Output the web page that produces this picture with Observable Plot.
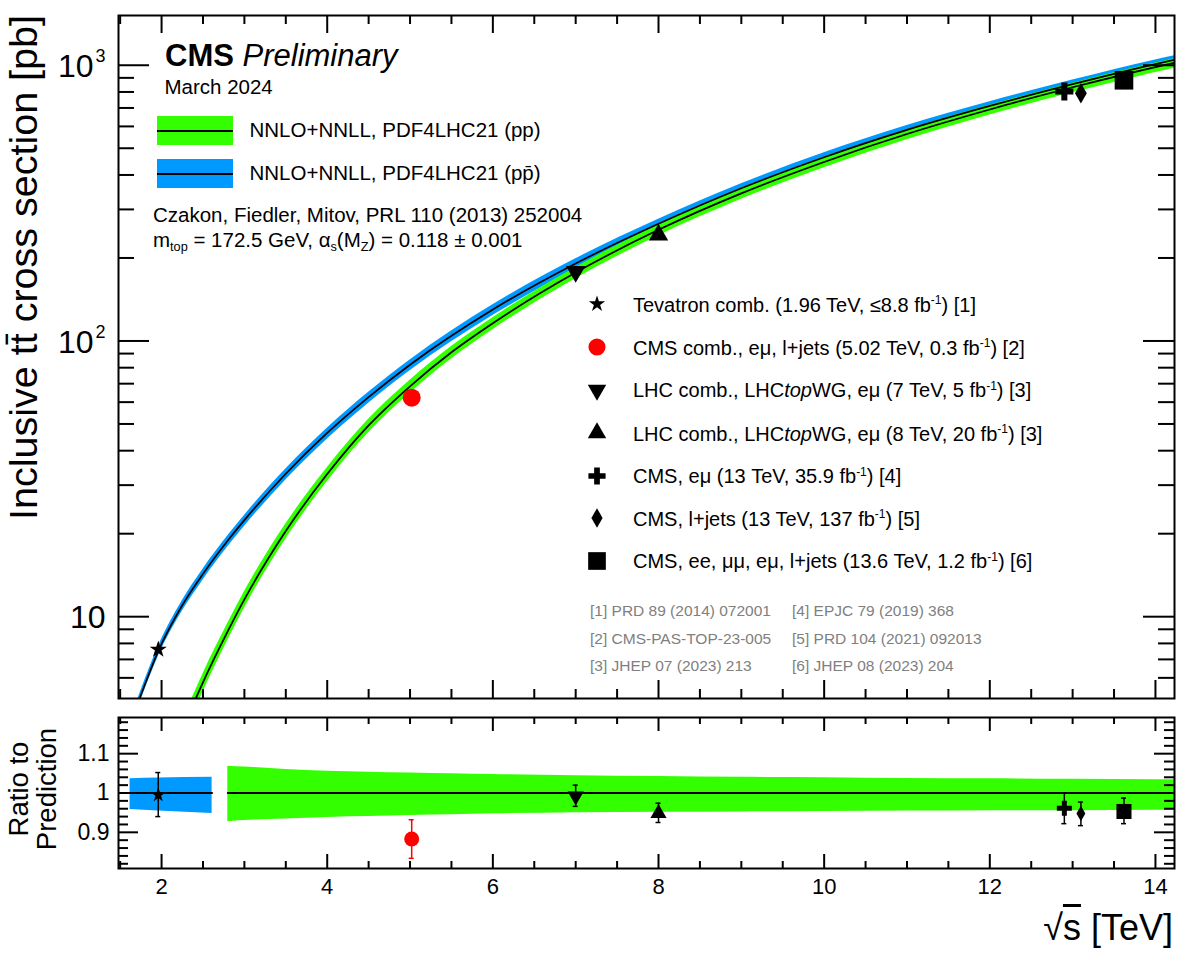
<!DOCTYPE html>
<html><head><meta charset="utf-8">
<script src="https://cdn.jsdelivr.net/npm/d3@7"></script>
<script src="https://cdn.jsdelivr.net/npm/@observablehq/plot@0.6"></script>
<style>
body{margin:0;background:#fff;}
#wrap{position:relative;width:1184px;height:957px;overflow:hidden;font-family:"Liberation Sans",Arial,Helvetica,sans-serif;color:#000;}
#top,#bot{position:absolute;left:0;}
#top{top:0}
#bot{top:705px}
.lbl{position:absolute;white-space:nowrap;line-height:1;}
.sup{position:relative;top:-0.62em;font-size:0.6em;}
.sub{position:relative;top:0.32em;font-size:0.62em;}
.ov{text-decoration:overline;}
.sw{position:absolute;}
</style></head><body><div id="wrap"><div id="top"></div><div id="bot"></div></div>
<script>
// ---------- theory: NNLO+NNLL, PDF4LHC21 (pp) ----------
const ppSqrtS = [2.35, 2.5, 2.8, 3, 3.5, 4, 4.5, 5, 5.5, 6, 7, 8, 9, 10, 11, 12, 13, 14, 14.3];
const ppXsec  = [4.57, 5.78, 8.86, 11.55, 20.45, 32.9, 49.4, 68.5, 91, 116, 177, 253, 343, 446, 563, 691, 832, 985, 1032];
const ppRelUp = [0.075, 0.073, 0.068, 0.066, 0.060, 0.055, 0.053, 0.051, 0.049, 0.047, 0.044, 0.042, 0.040, 0.039, 0.037, 0.036, 0.035, 0.034, 0.034];
const ppRelDn = [0.080, 0.078, 0.073, 0.070, 0.066, 0.062, 0.060, 0.057, 0.055, 0.053, 0.050, 0.049, 0.048, 0.047, 0.046, 0.045, 0.045, 0.044, 0.044];
const ppRatioStart = 2.8;

// ---------- theory: NNLO+NNLL, PDF4LHC21 (ppbar) ----------
const ppbarSqrtS = [1.7, 1.8, 1.96, 2.25, 2.5, 2.8, 3, 3.5, 4, 4.5, 5, 6, 7, 8, 9, 10, 11, 12, 13, 14, 14.3];
const ppbarXsec  = [4.73, 5.69, 7.5, 11.0, 14.3, 18.9, 22.4, 33.0, 46.4, 62.6, 82, 130, 191, 266, 358, 464, 583, 712, 854, 1010, 1057];
const ppbarRelUp = [0.036, 0.037, 0.038, 0.039, 0.040, 0.040, 0.040, 0.040, 0.040, 0.040, 0.040, 0.040, 0.040, 0.039, 0.038, 0.038, 0.037, 0.036, 0.035, 0.035, 0.035];
const ppbarRelDn = [0.042, 0.044, 0.046, 0.049, 0.051, 0.052, 0.052, 0.052, 0.052, 0.051, 0.050, 0.049, 0.048, 0.047, 0.046, 0.046, 0.045, 0.045, 0.045, 0.044, 0.044];
const ppbarRatioSqrtS = [1.62, 1.96, 2.61];
const ppbarRatioUp = [0.036, 0.038, 0.040];
const ppbarRatioDn = [0.042, 0.046, 0.052];

// ---------- measurements ----------
const measLabel = [
  'Tevatron comb. (1.96 TeV, ≤8.8 fb<span class="sup">-1</span>) [1]',
  'CMS comb., eμ, l+jets (5.02 TeV, 0.3 fb<span class="sup">-1</span>) [2]',
  'LHC comb., LHC<i>top</i>WG, eμ (7 TeV, 5 fb<span class="sup">-1</span>) [3]',
  'LHC comb., LHC<i>top</i>WG, eμ (8 TeV, 20 fb<span class="sup">-1</span>) [3]',
  'CMS, eμ (13 TeV, 35.9 fb<span class="sup">-1</span>) [4]',
  'CMS, l+jets (13 TeV, 137 fb<span class="sup">-1</span>) [5]',
  'CMS, ee, μμ, eμ, l+jets (13.6 TeV, 1.2 fb<span class="sup">-1</span>) [6]'
];
const measSqrtS   = [1.96, 5.02, 7, 8, 12.9, 13.1, 13.62];
const measXsec    = [7.60, 62.3, 178.5, 242.3, 803, 791, 882];
const measRatio   = [0.995, 0.883, 0.992, 0.948, 0.961, 0.948, 0.953];
const measRatioLo = [0.940, 0.834, 0.966, 0.925, 0.922, 0.917, 0.922];
const measRatioHi = [1.052, 0.932, 1.020, 0.974, 1.000, 0.977, 0.987];
const measSymbol  = ["star", "circle", "triangle", "triangle", "cross", "diamond", "square"];
const measRotate  = [0, 0, 180, 0, 0, 0, 0];
const measColor   = ["black", "#ff0000", "black", "black", "black", "black", "black"];
const measSizeTop = [5.4, 9, 7.2, 7.2, 7.6, 6.2, 10.5];
const measSizeRat = [4.6, 7.5, 6, 6, 6.3, 4.7, 8.5];

const refsLeft  = ["[1] PRD 89 (2014) 072001", "[2] CMS-PAS-TOP-23-005", "[3] JHEP 07 (2023) 213"];
const refsRight = ["[4] EPJC 79 (2019) 368", "[5] PRD 104 (2021) 092013", "[6] JHEP 08 (2023) 204"];

// ---------- axes ----------
const xDom = [1.48, 14.23];
const yDom = [5.05, 1515];
const rDom = [0.808, 1.192];
const xMajorTicks = [2, 4, 6, 8, 10, 12, 14];
const xMinorTicks = [1.5, 2.5, 3, 3.5, 4.5, 5, 5.5, 6.5, 7, 7.5, 8.5, 9, 9.5, 10.5, 11, 11.5, 12.5, 13, 13.5];
const yMajorTicks = [10, 100, 1000];
const yTickBase = ["10", "10", "10"];
const yTickSup = ["", "2", "3"];
const yMinorTicks = [6, 7, 8, 9, 20, 30, 40, 50, 60, 70, 80, 90, 200, 300, 400, 500, 600, 700, 800, 900];
const rMajorTicks = [0.9, 1, 1.1];
const rTickLabels = ["0.9", "1", "1.1"];
const rMinorTicks = [0.82, 0.84, 0.86, 0.88, 0.92, 0.94, 0.96, 0.98, 1.02, 1.04, 1.06, 1.08, 1.12, 1.14, 1.16, 1.18];

const GREEN = "#33ff00", BLUE = "#0099ff";
const FONT = '"Liberation Sans", Arial, Helvetica, sans-serif';

const ppRows = ppSqrtS.map((x, i) => ({x, v: ppXsec[i], lo: ppXsec[i] * (1 - ppRelDn[i]), hi: ppXsec[i] * (1 + ppRelUp[i]), rlo: 1 - ppRelDn[i], rhi: 1 + ppRelUp[i]}));
const ppbarRows = ppbarSqrtS.map((x, i) => ({x, v: ppbarXsec[i], lo: ppbarXsec[i] * (1 - ppbarRelDn[i]), hi: ppbarXsec[i] * (1 + ppbarRelUp[i])}));
const ppbarRatioRows = ppbarRatioSqrtS.map((x, i) => ({x, rlo: 1 - ppbarRatioDn[i], rhi: 1 + ppbarRatioUp[i]}));
const ppRatioRows = ppRows.filter(d => d.x >= ppRatioStart);
const meas = measSqrtS.map((x, i) => ({x, v: measXsec[i], r: measRatio[i], rlo: measRatioLo[i], rhi: measRatioHi[i], color: measColor[i]}));

function tickRules(xd, yd, L) {
  const sw = 2;
  return [
    Plot.ruleY(L.yMaj, {y: d => d, x1: xd[0], x2: xd[0], insetRight: -L.yMajLen, strokeWidth: sw}),
    Plot.ruleY(L.yMaj, {y: d => d, x1: xd[1], x2: xd[1], insetLeft: -L.yMajLen, strokeWidth: sw}),
    Plot.ruleY(L.yMin, {y: d => d, x1: xd[0], x2: xd[0], insetRight: -L.yMinLen, strokeWidth: sw}),
    Plot.ruleY(L.yMin, {y: d => d, x1: xd[1], x2: xd[1], insetLeft: -L.yMinLen, strokeWidth: sw}),
    Plot.ruleX(xMajorTicks, {x: d => d, y1: yd[0], y2: yd[0], insetTop: -L.xMajLen, strokeWidth: sw}),
    Plot.ruleX(xMajorTicks, {x: d => d, y1: yd[1], y2: yd[1], insetBottom: -L.xMajLen, strokeWidth: sw}),
    Plot.ruleX(xMinorTicks, {x: d => d, y1: yd[0], y2: yd[0], insetTop: -L.xMinLen, strokeWidth: sw}),
    Plot.ruleX(xMinorTicks, {x: d => d, y1: yd[1], y2: yd[1], insetBottom: -L.xMinLen, strokeWidth: sw})
  ];
}

const topMarks = [
  Plot.areaY(ppbarRows, {x: "x", y1: "lo", y2: "hi", fill: BLUE, curve: "monotone-x", clip: true}),
  Plot.areaY(ppRows, {x: "x", y1: "lo", y2: "hi", fill: GREEN, curve: "monotone-x", clip: true}),
  Plot.line(ppbarRows, {x: "x", y: "v", stroke: "black", strokeWidth: 1.7, curve: "monotone-x", clip: true}),
  Plot.line(ppRows, {x: "x", y: "v", stroke: "black", strokeWidth: 1.7, curve: "monotone-x", clip: true})
];
meas.forEach((d, i) => {
  topMarks.push(Plot.dot([d], {x: "x", y: "v", symbol: measSymbol[i], r: measSizeTop[i], rotate: measRotate[i], fill: measColor[i], stroke: "none"}));
});
topMarks.push(...tickRules(xDom, yDom, {yMaj: yMajorTicks, yMin: yMinorTicks, yMajLen: 31, yMinLen: 16, xMajLen: 18, xMinLen: 9}));
topMarks.push(
  Plot.text(yMajorTicks.filter((d, i) => !yTickSup[i]), {x: xDom[0], y: d => d, text: d => yTickBase[yMajorTicks.indexOf(d)], textAnchor: "end", dx: -13, dy: 1, fontSize: 32}),
  Plot.text(yMajorTicks.filter((d, i) => yTickSup[i]), {x: xDom[0], y: d => d, text: d => yTickBase[yMajorTicks.indexOf(d)], textAnchor: "end", dx: -25, dy: 2, fontSize: 32}),
  Plot.text(yMajorTicks.filter((d, i) => yTickSup[i]), {x: xDom[0], y: d => d, text: d => yTickSup[yMajorTicks.indexOf(d)], textAnchor: "start", dx: -23, dy: -9, fontSize: 18}),
  Plot.frame({stroke: "black", strokeWidth: 2})
);

const topPlot = Plot.plot({
  width: 1184, height: 705,
  marginLeft: 118, marginRight: 10, marginTop: 15, marginBottom: 7,
  x: {domain: xDom, axis: null},
  y: {type: "log", domain: yDom, axis: null},
  style: {fontFamily: FONT, background: "transparent", overflow: "visible", color: "black"},
  marks: topMarks
});
document.getElementById("top").appendChild(topPlot);

const botMarks = [
  Plot.areaY(ppbarRatioRows, {x: "x", y1: "rlo", y2: "rhi", fill: BLUE, curve: "monotone-x", clip: true}),
  Plot.areaY(ppRatioRows, {x: "x", y1: "rlo", y2: "rhi", fill: GREEN, curve: "monotone-x", clip: true}),
  Plot.line(ppbarRatioRows, {x: "x", y: d => 1, stroke: "black", strokeWidth: 1.8, clip: true}),
  Plot.line(ppRatioRows, {x: "x", y: d => 1, stroke: "black", strokeWidth: 1.8, clip: true}),
  Plot.ruleX(meas, {x: "x", y1: "rlo", y2: "rhi", stroke: "color", strokeWidth: 1.5}),
  Plot.ruleY(meas, {y: "rlo", x1: "x", x2: "x", insetLeft: -2.5, insetRight: -2.5, stroke: "color", strokeWidth: 1.5}),
  Plot.ruleY(meas, {y: "rhi", x1: "x", x2: "x", insetLeft: -2.5, insetRight: -2.5, stroke: "color", strokeWidth: 1.5})
];
meas.forEach((d, i) => {
  botMarks.push(Plot.dot([d], {x: "x", y: "r", symbol: measSymbol[i], r: measSizeRat[i], rotate: measRotate[i], fill: measColor[i], stroke: "none"}));
});
botMarks.push(...tickRules(xDom, rDom, {yMaj: rMajorTicks, yMin: rMinorTicks, yMajLen: 20, yMinLen: 10, xMajLen: 14, xMinLen: 7}));
botMarks.push(
  Plot.text(rMajorTicks, {x: xDom[0], y: d => d, text: (d, i) => rTickLabels[i], textAnchor: "end", dx: -9, fontSize: 23}),
  Plot.text(xMajorTicks, {x: d => d, y: rDom[0], text: d => String(d), lineAnchor: "top", dy: 10, fontSize: 22}),
  Plot.frame({stroke: "black", strokeWidth: 2})
);
const botPlot = Plot.plot({
  width: 1184, height: 252,
  marginLeft: 118, marginRight: 10, marginTop: 12, marginBottom: 89,
  x: {domain: xDom, axis: null},
  y: {domain: rDom, axis: null},
  style: {fontFamily: FONT, background: "transparent", overflow: "visible", color: "black"},
  marks: botMarks
});
document.getElementById("bot").appendChild(botPlot);

// ---------- text & legend overlays ----------
const wrap = document.getElementById("wrap");
function put(html, x, base, fs, extra = "") {
  const d = document.createElement("div");
  d.className = "lbl";
  d.style.cssText = `left:${x}px;top:${base - 0.8465 * fs}px;font-size:${fs}px;${extra}`;
  d.innerHTML = html;
  wrap.appendChild(d);
  return d;
}
put('<b>CMS</b> <i>Preliminary</i>', 165, 66, 31);
put('March 2024', 164.5, 94, 20.5);
put('NNLO+NNLL, PDF4LHC21 (pp)', 249.5, 137.5, 20.5);
put('NNLO+NNLL, PDF4LHC21 (pp\u0304)', 249.5, 180.5, 20.5);
put('Czakon, Fiedler, Mitov, PRL 110 (2013) 252004', 153, 222, 20.5);
put('m<span class="sub">top</span> = 172.5 GeV, α<span class="sub">s</span>(M<span class="sub">Z</span>) = 0.118 ± 0.001', 153, 247, 20.5);

function swatch(color, y0) {
  const s = document.createElement("div");
  s.className = "sw";
  s.style.cssText = `left:157px;top:${y0}px;width:76px;height:29px;background:${color};`;
  const l = document.createElement("div");
  l.style.cssText = "position:absolute;left:0;top:13.5px;width:76px;height:2px;background:#000;";
  s.appendChild(l);
  wrap.appendChild(s);
}
swatch(GREEN, 116);
swatch(BLUE, 159);

const symMap = {star: d3.symbolStar, circle: d3.symbolCircle, triangle: d3.symbolTriangle, cross: d3.symbolCross, diamond: d3.symbolDiamond, square: d3.symbolSquare};
const legendRowY = [304, 347, 389.5, 433, 475.5, 518, 560.5];
measLabel.forEach((lab, i) => {
  const cy = legendRowY[i];
  const svg = d3.create("svg").attr("width", 30).attr("height", 30)
    .style("position", "absolute").style("left", (597 - 15) + "px").style("top", (cy - 15) + "px").style("overflow", "visible");
  const r = measSizeTop[i] * 0.95;
  svg.append("path").attr("d", d3.symbol(symMap[measSymbol[i]], Math.PI * r * r)())
    .attr("transform", `translate(15,15) rotate(${measRotate[i]})`).attr("fill", measColor[i]);
  wrap.appendChild(svg.node());
  put(lab, 633, cy + 7.5, 20);
});
refsLeft.forEach((t, i) => put(t, 590, 616.5 + i * 27.5, 15.5, "color:#808080;"));
refsRight.forEach((t, i) => put(t, 792, 616.5 + i * 27.5, 15.5, "color:#808080;"));

// axis titles
function rotTitle(html, baselineX, endY, fs, width, align, lh) {
  const d = document.createElement("div");
  d.className = "lbl";
  const lineH = lh || fs;
  const baseOff = (lineH - 1.117 * fs) / 2 + 0.905 * fs;
  d.style.cssText = `left:${baselineX - baseOff}px;top:${endY}px;font-size:${fs}px;line-height:${lineH}px;width:${width}px;text-align:${align};transform:rotate(-90deg);transform-origin:0 0;`;
  d.innerHTML = html;
  wrap.appendChild(d);
}
rotTitle('Inclusive tt\u0304 cross section [pb]', 37, 15 + 620, 39.5, 620, "right");
rotTitle('Ratio to<br>Prediction', 29, 789 + 110, 27.5, 220, "center", 28);
put('√<span class="ov">s</span> [TeV]', 0, 940, 36, "width:1173px;text-align:right;");
</script>
</body></html>
